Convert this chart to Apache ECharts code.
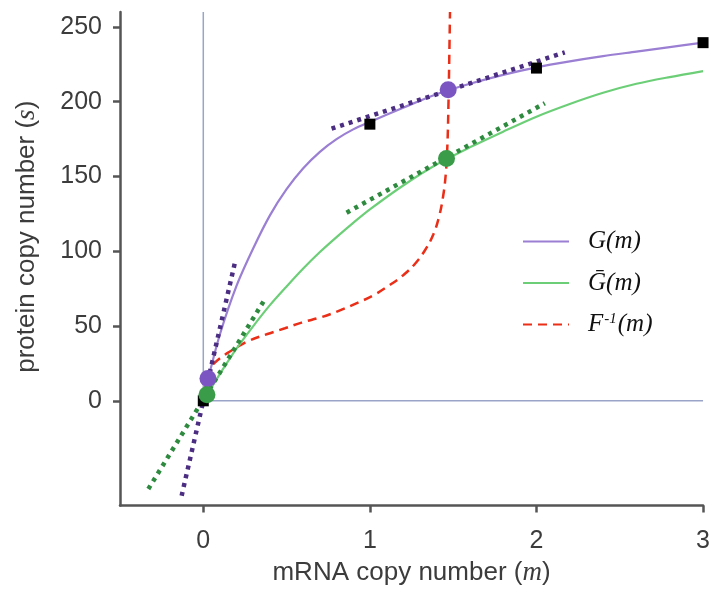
<!DOCTYPE html>
<html>
<head>
<meta charset="utf-8">
<script src="https://cdn.jsdelivr.net/npm/echarts@6/dist/echarts.min.js"></script>
<style>html,body{margin:0;padding:0;background:#fff;}#c{width:713px;height:591px;}</style>
</head>
<body>
<div id="c"></div>
<script>
// ---- data ----
const xTicks = [0, 1, 2, 3];
const yTicks = [0, 50, 100, 150, 200, 250];

// G(m) (purple solid)
const gM = [0, 0.03, 0.1, 0.2, 0.3, 0.4, 0.5, 0.6, 0.7, 0.8, 0.9, 1.0, 1.2, 1.4, 1.6, 1.8, 2.0, 2.2, 2.4, 2.6, 2.8, 3.0];
const gS = [0, 15, 44.5, 77, 102, 124, 141.5, 155.5, 166.5, 175, 181.5, 186.5, 196, 205, 212, 218, 223, 227, 230.5, 233.5, 236.5, 239.5];

// Gbar(m) (green solid)
const gbM = [0, 0.1, 0.2, 0.3, 0.4, 0.5, 0.6, 0.7, 0.8, 0.9, 1.0, 1.2, 1.4, 1.6, 1.8, 2.0, 2.2, 2.4, 2.6, 2.8, 3.0];
const gbS = [0, 18, 35, 50, 64, 76.5, 88.5, 99.5, 109.5, 119, 128, 144, 158, 169.5, 180, 190, 198.5, 206, 212, 216.5, 220.5];

// F^-1(m) (red dashed)
const fM = [0.06, 0.1, 0.16, 0.22, 0.28, 0.38, 0.49, 0.59, 0.71, 0.81, 0.905, 1.02, 1.12, 1.2, 1.27, 1.33, 1.38, 1.415, 1.44, 1.455, 1.465, 1.472, 1.477, 1.481];
const fS = [24.5, 28.5, 33, 37, 40.5, 44.5, 48.5, 52.3, 56, 60, 64.5, 70.5, 77.5, 84, 91.5, 100.5, 111, 123, 137, 151, 170, 200, 232, 260];

// tangent segments (endpoints in data units)
const tanG0 = [[-0.13, -63.5], [0.19, 92.5]];
const tanGb0 = [[-0.33, -59], [0.37, 68]];
const tanG1 = [[0.77, 182], [2.17, 233]];
const tanGb1 = [[0.86, 125.8], [2.05, 199]];

// points
const gDots = [[0.028, 15], [1.47, 208]];
const gbDots = [[0.022, 4], [1.46, 162]];
const squares = [[0, 0], [1, 185], [2, 222.5], [3, 239.5]];

// reference lines
const vRef = [[0, 0], [0, 260]];
const hRef = [[0, 0], [3, 0]];

// ---- chart ----
const zip = (a, b) => a.map((v, i) => [v, b[i]]);
const sans = 'Liberation Sans';
const serif = 'Liberation Serif';
const txt = '#3c3c3c';

const chart = echarts.init(document.getElementById('c'), null, {renderer: 'canvas'});
const tangentStyle = (color) => ({color: color, width: 4.5, type: [4, 5], cap: 'butt'});

chart.setOption({
  animation: false,
  backgroundColor: '#fff',
  grid: {left: 120, right: 6, top: 12, bottom: 85, containLabel: false},
  xAxis: {
    type: 'value', min: -0.5, max: 3,
    name: '{a|mRNA copy number (}{i|m}{a|)}',
    nameLocation: 'middle', nameGap: 53,
    nameTextStyle: {
      rich: {
        a: {fontFamily: sans, fontSize: 26, color: txt, lineHeight: 28},
        i: {fontFamily: serif, fontStyle: 'italic', fontSize: 27, color: txt, lineHeight: 28}
      }
    },
    axisLine: {show: true, onZero: false, lineStyle: {color: '#555', width: 2.5}},
    axisTick: {show: true, length: 7, customValues: xTicks, lineStyle: {color: '#555', width: 2.5}},
    axisLabel: {customValues: xTicks, margin: 23, fontFamily: sans, fontSize: 25, color: txt},
    splitLine: {show: false}
  },
  yAxis: {
    type: 'value', min: -70, max: 260,
    name: '{a|protein copy number (}{i|s}{a|)}',
    nameLocation: 'middle', nameGap: 79,
    nameTextStyle: {
      padding: [0, 0, 0, 44],
      rich: {
        a: {fontFamily: sans, fontSize: 26, color: txt, lineHeight: 28},
        i: {fontFamily: serif, fontStyle: 'italic', fontSize: 27, color: txt, lineHeight: 28}
      }
    },
    axisLine: {show: true, onZero: false, lineStyle: {color: '#555', width: 2.5}},
    axisTick: {show: true, length: 7, customValues: yTicks, lineStyle: {color: '#555', width: 2.5}},
    axisLabel: {customValues: yTicks, margin: 18, fontFamily: sans, fontSize: 25, color: txt},
    splitLine: {show: false}
  },
  legend: {
    left: 522, top: 229, orient: 'vertical', padding: 0,
    itemWidth: 46, itemHeight: 25, itemGap: 16.5,
    itemStyle: {opacity: 0},
    data: ['G', 'Gbar', 'Finv'],
    formatter: function (name) {
      if (name === 'G') return '{i|G(m)}';
      if (name === 'Gbar') return '{i|\u1E20(m)}';
      return '{i|F}{s|-1}{i|(m)}';
    },
    textStyle: {
      padding: [0, 0, 0, 14],
      rich: {
        i: {fontFamily: serif, fontStyle: 'italic', fontSize: 25, color: '#111', lineHeight: 25},
        s: {fontFamily: serif, fontStyle: 'italic', fontSize: 15, color: '#111', lineHeight: 25, verticalAlign: 'top', padding: [0, 1, 10, 1]}
      }
    }
  },
  series: [
    {type: 'line', data: vRef, symbol: 'none', silent: true, z: 1, lineStyle: {color: '#9aa4c9', width: 1.5}},
    {type: 'line', data: hRef, symbol: 'none', silent: true, z: 1, lineStyle: {color: '#9aa4c9', width: 1.5}},
    {name: 'Finv', type: 'line', data: zip(fM, fS), symbol: 'none', smooth: 0.4, z: 2,
     itemStyle: {color: '#ea2e17'},
     lineStyle: {color: '#ea2e17', width: 2.5, type: [9, 6]}},
    {name: 'Gbar', type: 'line', data: zip(gbM, gbS), symbol: 'none', smooth: 0.3, z: 3,
     itemStyle: {color: '#6ccf78'},
     lineStyle: {color: '#6ccf78', width: 2.2}},
    {name: 'G', type: 'line', data: zip(gM, gS), symbol: 'none', smooth: 0.3, z: 3,
     itemStyle: {color: '#9a7fd3'},
     lineStyle: {color: '#9a7fd3', width: 2.2}},
    {type: 'line', data: tanG0, symbol: 'none', z: 4, lineStyle: tangentStyle('#4b2d82')},
    {type: 'line', data: tanG1, symbol: 'none', z: 4, lineStyle: tangentStyle('#4b2d82')},
    {type: 'line', data: tanGb0, symbol: 'none', z: 4, lineStyle: tangentStyle('#2e8a3e')},
    {type: 'line', data: tanGb1, symbol: 'none', z: 4, lineStyle: tangentStyle('#2e8a3e')},
    {type: 'scatter', data: squares, symbol: 'rect', symbolSize: 11, z: 5, itemStyle: {color: '#000', opacity: 1}},
    {type: 'scatter', data: gDots, symbol: 'circle', symbolSize: 17, z: 6, itemStyle: {color: '#7b55c2', opacity: 1}},
    {type: 'scatter', data: gbDots, symbol: 'circle', symbolSize: 17, z: 6, itemStyle: {color: '#3a9b49', opacity: 1}}
  ]
});
</script>
</body>
</html>
